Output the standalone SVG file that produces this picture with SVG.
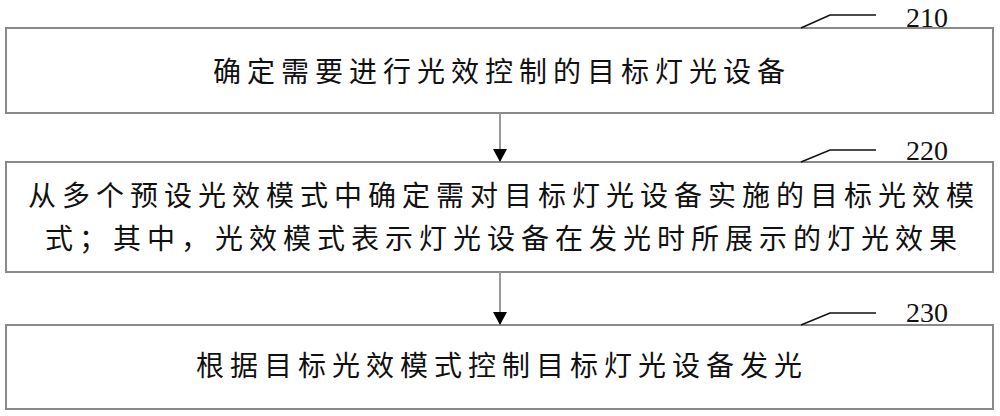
<svg xmlns="http://www.w3.org/2000/svg" width="1000" height="416" viewBox="0 0 1000 416">
<style>
.box{fill:#fff;stroke:#8a8a8a;stroke-width:2}
.t{font-family:"Noto Sans CJK SC","Noto Sans",sans-serif;font-size:28px;letter-spacing:6px;fill:#111}
.n{font-family:"Liberation Serif",serif;font-size:28px;fill:#111}
.lead{fill:none;stroke:#111;stroke-width:1.5}
.arr{stroke:#999;stroke-width:2}
</style>
<defs>
<marker id="ah" markerWidth="14" markerHeight="14" refX="13" refY="7" orient="auto" markerUnits="userSpaceOnUse" viewBox="0 0 14 14">
<path d="M0,0 L13,7 L0,14 Z" fill="#000"/>
</marker>
</defs>
<rect width="1000" height="416" fill="#fff"/>
<g id="n210">
<rect class="box" x="6" y="28" width="987" height="85"/>
<text class="t" x="213" y="82">确定需要进行光效控制的目标灯光设备</text>
<polyline class="lead" points="801,28 830,15 876,15"/>
<text class="n" x="906" y="27">210</text>
</g>
<g id="n220">
<rect class="box" x="6" y="162" width="987" height="110"/>
<text class="t" x="28" y="206">从多个预设光效模式中确定需对目标灯光设备实施的目标光效模</text>
<text class="t" x="45" y="249">式；其中，光效模式表示灯光设备在发光时所展示的灯光效果</text>
<polyline class="lead" points="801,162 830,150 876,150"/>
<text class="n" x="906" y="160">220</text>
</g>
<g id="n230">
<rect class="box" x="6" y="325" width="987" height="84"/>
<text class="t" x="196" y="376">根据目标光效模式控制目标灯光设备发光</text>
<polyline class="lead" points="801,325 830,313 876,313"/>
<text class="n" x="906" y="322">230</text>
</g>
<g id="connectors">
<line class="arr" x1="500" y1="113" x2="500" y2="162" marker-end="url(#ah)"/>
<line class="arr" x1="500" y1="272" x2="500" y2="325" marker-end="url(#ah)"/>
</g>
</svg>
